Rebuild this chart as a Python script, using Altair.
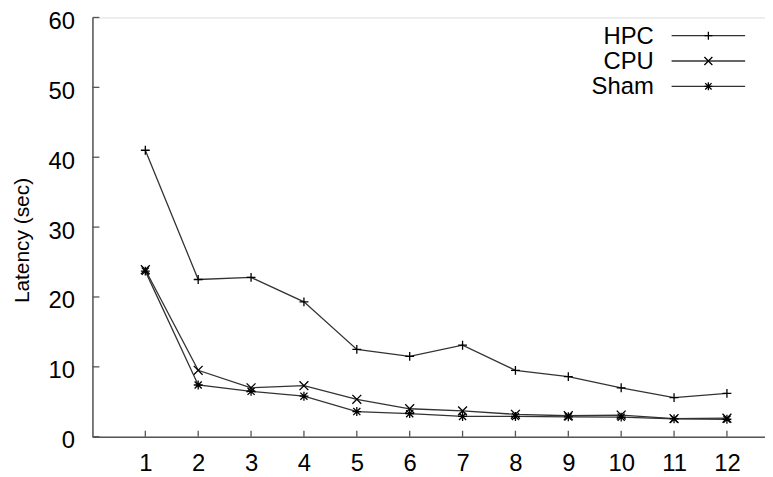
import altair as alt
import pandas as pd

sessions = list(range(1, 13))
hpc = [41.0, 22.5, 22.8, 19.3, 12.5, 11.5, 13.1, 9.5, 8.6, 7.0, 5.6, 6.2]
cpu = [23.9, 9.5, 7.0, 7.3, 5.35, 4.0, 3.7, 3.2, 3.0, 3.1, 2.6, 2.65]
sham = [23.7, 7.4, 6.5, 5.8, 3.6, 3.3, 2.9, 2.9, 2.85, 2.8, 2.55, 2.5]
series_names = ["HPC", "CPU", "Sham"]
x_ticks = list(range(1, 13))
y_ticks = [0, 10, 20, 30, 40, 50, 60]

W, H = 677, 422
FONT = "Liberation Sans"
LINE = "#333333"

shapes = {
    "HPC": "M-1,0L1,0M0,-1L0,1",
    "CPU": "M-1,-1L1,1M-1,1L1,-1",
    "Sham": "M-1,0L1,0M0,-1L0,1M-0.8,-0.8L0.8,0.8M-0.8,0.8L0.8,-0.8",
}

rows = []
for name, vals in zip(series_names, [hpc, cpu, sham]):
    for s, v in zip(sessions, vals):
        rows.append({"series": name, "session": s, "latency": v})
df = pd.DataFrame(rows)

xs = alt.Scale(domain=[0, 12.72], nice=False, zero=False)
ys = alt.Scale(domain=[0, 60], nice=False)

x_enc = alt.X(
    "session:Q", scale=xs,
    axis=alt.Axis(values=x_ticks, title=None, ticks=False, tickSize=0, grid=False,
                  labelFontSize=24, labelFont=FONT, labelColor="black", labelPadding=15,
                  domainColor="#555555", domainWidth=1.5, labelFlush=False),
)
y_enc = alt.Y(
    "latency:Q", scale=ys,
    axis=alt.Axis(values=y_ticks, title="Latency (sec)", ticks=False, tickSize=0, grid=False,
                  labelFontSize=24, labelFont=FONT, labelColor="black", labelPadding=18,
                  labelOffset=4, labelBaseline="middle",
                  domainColor="#555555", domainWidth=1.5, labelFlush=False,
                  titleFont=FONT, titleFontSize=21, titleFontWeight="normal", titleColor="black",
                  titleAngle=-90, titleBaseline="alphabetic", titleX=-64, titleY=224,
                  titleAlign="center"),
)

layers = []
for name in series_names:
    sub = df[df.series == name]
    base = alt.Chart(sub)
    layers.append(base.mark_line(color=LINE, strokeWidth=1.3).encode(x=x_enc, y=y_enc))
    layers.append(base.mark_point(shape=shapes[name], filled=False, color="black",
                                  strokeWidth=1.3, size=80, opacity=1).encode(x="session:Q", y="latency:Q"))

# inward tick marks
xt = pd.DataFrame({"t": x_ticks})
layers.append(alt.Chart(xt).mark_rule(color="#555555", strokeWidth=1.3).encode(
    x=alt.X("t:Q", scale=xs), y=alt.value(H), y2=alt.value(H - 6)))
yt = pd.DataFrame({"t": y_ticks})
layers.append(alt.Chart(yt).mark_rule(color="#555555", strokeWidth=1.3).encode(
    y=alt.Y("t:Q", scale=ys), x=alt.value(0), x2=alt.value(7)))

# legend
leg = pd.DataFrame({"series": series_names, "idx": [0, 1, 2]})
lbase = alt.Chart(leg).transform_calculate(
    ly="18.3 + 25.5 * datum.idx", tx="565", x1="583", x2="657", mx="620")
layers.append(lbase.mark_text(align="right", baseline="middle", fontSize=24, font=FONT,
                              color="black", dy=1).encode(
    x=alt.X("tx:Q", scale=None), y=alt.Y("ly:Q", scale=None), text="series:N"))
layers.append(lbase.mark_rule(color=LINE, strokeWidth=1.3).encode(
    x=alt.X("x1:Q", scale=None), x2="x2:Q", y=alt.Y("ly:Q", scale=None)))
for name in series_names:
    layers.append(lbase.transform_filter(alt.datum.series == name).mark_point(
        shape=shapes[name], filled=False, color="black", strokeWidth=1.3, size=64, opacity=1).encode(
        x=alt.X("mx:Q", scale=None), y=alt.Y("ly:Q", scale=None)))

chart = alt.layer(*layers).properties(
    width=W, height=H,
    autosize=alt.AutoSizeParams(type="none"),
    padding={"left": 85, "top": 8, "right": 0, "bottom": 39},
).configure_view(stroke=None).configure(background="white")

chart.save("out.html", embed_options={"renderer": "svg", "actions": False})
